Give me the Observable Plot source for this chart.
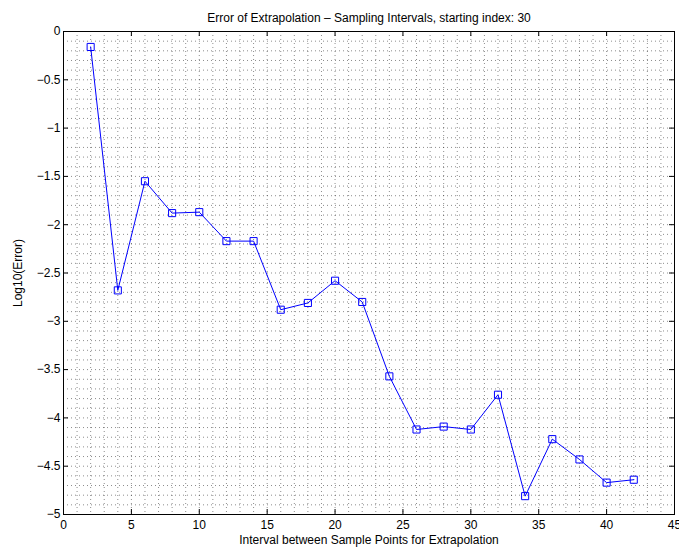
<!DOCTYPE html>
<html>
<head>
<meta charset="utf-8">
<script src="https://cdn.jsdelivr.net/npm/d3@7"></script>
<script src="https://cdn.jsdelivr.net/npm/@observablehq/plot@0.6"></script>
<style>
  html, body { margin: 0; padding: 0; background: #fff; }
</style>
</head>
<body>
<div id="chart"></div>
<script>
const titleText = "Error of Extrapolation \u2013 Sampling Intervals, starting index: 30";
const xLabel = "Interval between Sample Points for Extrapolation";
const yLabel = "Log10(Error)";
const intervals = [2, 4, 6, 8, 10, 12, 14, 16, 18, 20, 22, 24, 26, 28, 30, 32, 34, 36, 38, 40, 42];
const logErrors = [-0.16, -2.68, -1.55, -1.88, -1.87, -2.17, -2.17, -2.88, -2.81, -2.58, -2.80, -3.57,
                   -4.12, -4.09, -4.12, -3.76, -4.81, -4.22, -4.43, -4.67, -4.64];
const xTicks = [0, 5, 10, 15, 20, 25, 30, 35, 40, 45];
const yTicks = [0, -0.5, -1, -1.5, -2, -2.5, -3, -3.5, -4, -4.5, -5];

const data = intervals.map((x, i) => ({x, y: logErrors[i]}));
const xMinor = d3.range(0, 46, 1);
const yMinor = d3.range(0, 51, 1).map(i => -i / 10);

const W = 679, H = 550;
const mT = 31, mB = 36, mL = 63, mR = 5;
const frameH = H - mT - mB, frameW = W - mL - mR;
const fmt = d3.format("~g");
const tl = 5;

const chart = Plot.plot({
  width: W,
  height: H,
  marginTop: mT,
  marginBottom: mB,
  marginLeft: mL,
  marginRight: mR,
  style: {fontFamily: "'Liberation Sans', Arial, Helvetica, sans-serif", fontSize: "12px", background: "#fff", color: "#000"},
  x: {domain: [0, 45]},
  y: {domain: [-5, 0]},
  marks: [
    Plot.ruleX(xMinor, {x: d => d, stroke: "#000", strokeWidth: 1, strokeOpacity: 0.45, strokeDasharray: "1,3"}),
    Plot.ruleY(yMinor, {y: d => d, stroke: "#000", strokeWidth: 1, strokeOpacity: 0.45, strokeDasharray: "1,3"}),
    // inward ticks on all four sides
    Plot.tickX(xTicks, {x: d => d, insetTop: frameH - tl, stroke: "#000"}),
    Plot.tickX(xTicks, {x: d => d, insetBottom: frameH - tl, stroke: "#000"}),
    Plot.tickY(yTicks, {y: d => d, insetRight: frameW - tl, stroke: "#000"}),
    Plot.tickY(yTicks, {y: d => d, insetLeft: frameW - tl, stroke: "#000"}),
    Plot.frame({stroke: "#000", strokeWidth: 1}),
    Plot.axisX(xTicks, {tickSize: 0, tickPadding: 6, tickFormat: fmt, label: null, fontSize: 12}),
    Plot.axisY(yTicks, {tickSize: 0, tickPadding: 3, tickFormat: fmt, label: null, fontSize: 12}),
    Plot.line(data, {x: "x", y: "y", stroke: "#0000ff", strokeWidth: 1}),
    Plot.dot(data, {x: "x", y: "y", symbol: "square", r: 4, stroke: "#0000ff", fill: "none", strokeWidth: 1}),
    Plot.text([titleText], {frameAnchor: "top", dy: -18, fontSize: 12}),
    Plot.text([xLabel], {frameAnchor: "bottom", dy: 29, fontSize: 12}),
    Plot.text([yLabel], {frameAnchor: "left", dx: -45, rotate: -90, textAnchor: "middle", fontSize: 12})
  ]
});
document.getElementById("chart").appendChild(chart);
</script>
</body>
</html>
